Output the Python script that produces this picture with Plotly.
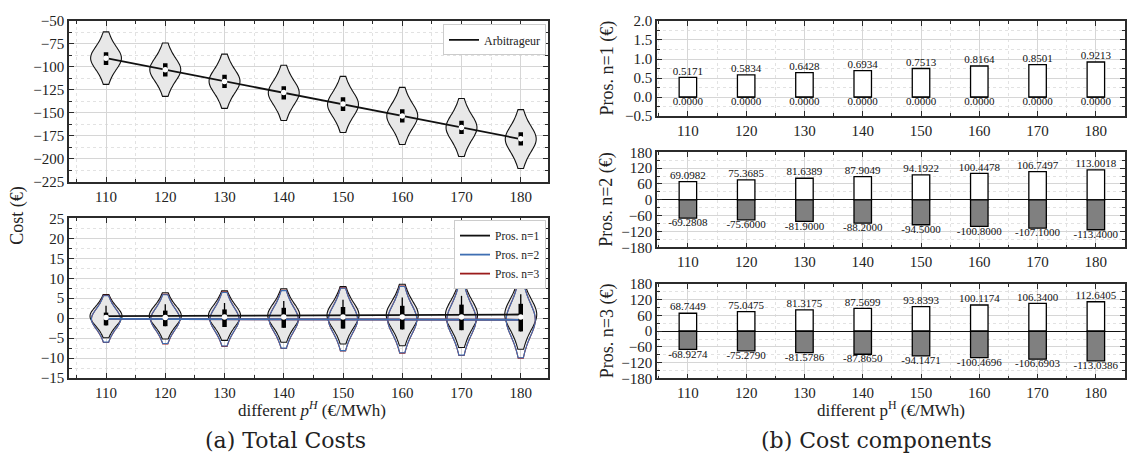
import plotly.graph_objects as go

# ---------------- data ----------------
prices = [110, 120, 130, 140, 150, 160, 170, 180]

# total cost of the arbitrageur (EUR), mean per hydrogen price
arbitrageur_cost = [-90.5, -103.0, -115.6, -128.2, -140.8, -153.3, -165.9, -178.4]
# half-range of the arbitrageur cost distribution per price
arbitrageur_spread = [28.5, 29.0, 29.5, 30.0, 30.5, 31.0, 31.5, 32.0]
# quartiles / medians of the arbitrageur cost distribution
arbitrageur_q1 = [-98.0, -110.5, -123.0, -135.5, -148.0, -160.5, -173.0, -185.5]
arbitrageur_q3 = [-84.0, -96.0, -108.5, -121.0, -133.0, -146.0, -158.5, -171.0]
arbitrageur_median = [-90.5, -103.0, -115.8, -127.8, -140.3, -153.5, -165.9, -178.2]

# prosumer cost components (EUR): income side (+) and expense side (-)
pros1_pos = [0.5171, 0.5834, 0.6428, 0.6934, 0.7513, 0.8164, 0.8501, 0.9213]
pros1_neg = [0.0, 0.0, 0.0, 0.0, 0.0, 0.0, 0.0, 0.0]
pros2_pos = [69.0982, 75.3685, 81.6389, 87.9049, 94.1922, 100.4478, 106.7497, 113.0018]
pros2_neg = [-69.2808, -75.6000, -81.9000, -88.2000, -94.5000, -100.8000, -107.1000, -113.4000]
pros3_pos = [68.7449, 75.0475, 81.3175, 87.5699, 93.8393, 100.1174, 106.3400, 112.6405]
pros3_neg = [-68.9274, -75.2790, -81.5786, -87.8650, -94.1471, -100.4696, -106.6903, -113.0386]

# half-range of each prosumer's total cost distribution per price
pros1_spread = [5.4, 5.8, 6.2, 6.7, 7.2, 7.7, 8.2, 8.7]
pros2_spread = [5.8, 6.1, 6.7, 7.2, 7.8, 8.3, 8.9, 9.5]
pros3_spread = [5.9, 6.2, 6.8, 7.3, 7.9, 8.4, 9.0, 9.6]
# box statistics of the prosumer cost distributions
pros_median = [0.2, 0.2, 0.3, 0.3, 0.3, 0.3, 0.3, 0.3]
pros_q1 = [-1.8, -2.0, -2.2, -2.4, -2.6, -2.8, -3.0, -3.3]
pros_q3 = [1.4, 1.9, 2.2, 2.6, 2.8, 3.1, 3.4, 3.6]
pros_whisker_hi = [3.1, 3.5, 3.8, 4.3, 4.6, 5.2, 5.6, 6.0]

# normalised scenario deviations (shape of every cost distribution)
unit_offsets = [-1.00, -0.78, -0.64, -0.53, -0.45, -0.38, -0.32, -0.26, -0.21,
                -0.16, -0.12, -0.08, -0.04, 0.00, 0.04, 0.08, 0.12, 0.16, 0.21,
                0.26, 0.32, 0.38, 0.45, 0.53, 0.64, 0.78, 1.00]

# net prosumer cost = income + expense
pros1_cost = [a + b for a, b in zip(pros1_pos, pros1_neg)]
pros2_cost = [a + b for a, b in zip(pros2_pos, pros2_neg)]
pros3_cost = [a + b for a, b in zip(pros3_pos, pros3_neg)]

# ---------------- layout helpers ----------------
W, H = 1127, 475
FONT = "Liberation Serif"
CAPTION_FONT = "DejaVu Serif"
BLUE = "#3f6fb3"
RED = "#9b1c1c"
GRID = "#d6d6d6"
MINOR_GRID = "#e2e2e2"
FRAME = "#2b2b2b"
BW = 0.24  # kernel bandwidth relative to the distribution half-range


def fx(px):
    return px / W


def fy(py):
    return 1 - py / H


fig = go.Figure()


def add_violins(centers, spreads, xa, ya, edge, fill, width):
    for p, c, s in zip(prices, centers, spreads):
        ys = [c + s * u for u in unit_offsets]
        fig.add_trace(go.Violin(
            x=[p] * len(ys), y=ys, xaxis=xa, yaxis=ya,
            width=width, spanmode="hard", bandwidth=BW * s,
            points=False, box_visible=False, meanline_visible=False,
            fillcolor=fill, line=dict(color=edge, width=1.1),
            showlegend=False, hoverinfo="skip"))


def segments(lo, hi):
    xs, ys = [], []
    for p, a, b in zip(prices, lo, hi):
        xs += [p, p, None]
        ys += [a, b, None]
    return xs, ys


# ---- panel (a) top: arbitrageur ----
add_violins(arbitrageur_cost, arbitrageur_spread, "x", "y", "#111111", "#e8e8e8", 5.2)
fig.add_trace(go.Scatter(x=prices, y=arbitrageur_cost, xaxis="x", yaxis="y", mode="lines",
                         line=dict(color="#111111", width=1.8), name="Arbitrageur",
                         legend="legend"))
bx, by = segments(arbitrageur_q1, arbitrageur_q3)
fig.add_trace(go.Scatter(x=bx, y=by, xaxis="x", yaxis="y", mode="lines",
                         line=dict(color="black", width=4.5), showlegend=False, hoverinfo="skip"))
fig.add_trace(go.Scatter(x=prices, y=arbitrageur_median, xaxis="x", yaxis="y", mode="markers",
                         marker=dict(color="white", size=5.5), showlegend=False, hoverinfo="skip"))

# ---- panel (a) bottom: prosumers ----
add_violins(pros1_cost, pros1_spread, "x2", "y2", "#111111", "#e8e8e8", 5.4)
add_violins(pros3_cost, pros3_spread, "x2", "y2", RED, "rgba(0,0,0,0)", 4.9)
add_violins(pros2_cost, pros2_spread, "x2", "y2", BLUE, "rgba(0,0,0,0)", 4.9)
fig.add_trace(go.Scatter(x=prices, y=pros1_cost, xaxis="x2", yaxis="y2", mode="lines",
                         line=dict(color="#111111", width=1.8), name="Pros. n=1",
                         legend="legend2", legendrank=1))
fig.add_trace(go.Scatter(x=prices, y=pros3_cost, xaxis="x2", yaxis="y2", mode="lines",
                         line=dict(color=RED, width=1.8), name="Pros. n=3",
                         legend="legend2", legendrank=3))
fig.add_trace(go.Scatter(x=prices, y=pros2_cost, xaxis="x2", yaxis="y2", mode="lines",
                         line=dict(color=BLUE, width=1.8), name="Pros. n=2",
                         legend="legend2", legendrank=2))
wx, wy = segments(pros_q1, pros_whisker_hi)
fig.add_trace(go.Scatter(x=wx, y=wy, xaxis="x2", yaxis="y2", mode="lines",
                         line=dict(color="black", width=1.3), showlegend=False, hoverinfo="skip"))
bx, by = segments(pros_q1, pros_q3)
fig.add_trace(go.Scatter(x=bx, y=by, xaxis="x2", yaxis="y2", mode="lines",
                         line=dict(color="black", width=4.5), showlegend=False, hoverinfo="skip"))
fig.add_trace(go.Scatter(x=prices, y=pros_median, xaxis="x2", yaxis="y2", mode="markers",
                         marker=dict(color="white", size=5.5), showlegend=False, hoverinfo="skip"))


# ---- panel (b): cost components ----
def add_components(pos, neg, xa, ya):
    fig.add_trace(go.Bar(x=prices, y=pos, xaxis=xa, yaxis=ya, width=3,
                         marker=dict(color="white", line=dict(color="black", width=1.3)),
                         showlegend=False, hoverinfo="skip"))
    fig.add_trace(go.Bar(x=prices, y=neg, xaxis=xa, yaxis=ya, width=3,
                         marker=dict(color="#808080", line=dict(color="black", width=1.3)),
                         showlegend=False, hoverinfo="skip"))
    fig.add_trace(go.Scatter(x=prices, y=pos, xaxis=xa, yaxis=ya, mode="text",
                             text=[f"{v:.4f}" for v in pos], textposition="top center",
                             textfont=dict(family=FONT, size=11, color="#111"),
                             showlegend=False, hoverinfo="skip"))
    fig.add_trace(go.Scatter(x=prices, y=neg, xaxis=xa, yaxis=ya, mode="text",
                             text=[f"{v:.4f}" for v in neg], textposition="bottom center",
                             textfont=dict(family=FONT, size=11, color="#111"),
                             showlegend=False, hoverinfo="skip"))


add_components(pros1_pos, pros1_neg, "x3", "y3")
add_components(pros2_pos, pros2_neg, "x4", "y4")
add_components(pros3_pos, pros3_neg, "x5", "y5")

# ---------------- axes ----------------
tickfont = dict(family=FONT, size=15, color="#222")


def xaxis(domain, anchor, rng):
    return dict(domain=domain, anchor=anchor, range=rng, tickmode="array",
                tickvals=prices, ticktext=[str(p) for p in prices], ticks="inside",
                ticklen=5, tickcolor=FRAME, showline=True, linecolor=FRAME, linewidth=1.5,
                mirror="allticks", showgrid=True, gridcolor=GRID, gridwidth=1.3,
                zeroline=False, tickfont=tickfont,
                minor=dict(dtick=5, tick0=105, ticks="inside", ticklen=3, tickcolor=FRAME,
                           showgrid=True, gridcolor=MINOR_GRID, griddash="dot", gridwidth=1))


def yaxis(domain, anchor, rng, dtick, minor, fmt=None, zero=False):
    d = dict(domain=domain, anchor=anchor, range=rng, dtick=dtick, tick0=rng[0],
             ticks="inside", ticklen=5, tickcolor=FRAME, showline=True, linecolor=FRAME,
             linewidth=1.5, mirror="allticks", showgrid=True, gridcolor=GRID, gridwidth=1.3,
             zeroline=zero, zerolinecolor="#111", zerolinewidth=1.3, tickfont=tickfont,
             minor=dict(dtick=minor, ticks="inside", ticklen=3, tickcolor=FRAME,
                        showgrid=True, gridcolor=MINOR_GRID, griddash="dot", gridwidth=1))
    if fmt:
        d["tickformat"] = fmt
    return d


left_x = [fx(69), fx(548)]
right_x = [fx(657), fx(1125)]

fig.update_layout(
    width=W, height=H, margin=dict(l=0, r=0, t=0, b=0),
    paper_bgcolor="white", plot_bgcolor="white",
    font=dict(family=FONT, color="#222"),
    violinmode="overlay", barmode="overlay",
    xaxis=xaxis(left_x, "y", [103.75, 184.6]),
    yaxis=yaxis([fy(180), fy(13.3)], "x", [-225, -50], 25, 12.5),
    xaxis2=xaxis(left_x, "y2", [103.75, 184.6]),
    yaxis2=yaxis([fy(383), fy(217.7)], "x2", [-15, 25], 5, 2.5),
    xaxis3=xaxis(right_x, "y3", [104.7, 185.0]),
    yaxis3=yaxis([fy(112), fy(13.3)], "x3", [-0.5, 2.0], 0.5, 0.25, fmt=".1f"),
    xaxis4=xaxis(right_x, "y4", [104.7, 185.0]),
    yaxis4=yaxis([fy(247.7), fy(149.3)], "x4", [-180, 180], 60, 30, zero=True),
    xaxis5=xaxis(right_x, "y5", [104.7, 185.0]),
    yaxis5=yaxis([fy(383.3), fy(285.7)], "x5", [-180, 180], 60, 30, zero=True),
    legend=dict(x=fx(546), xanchor="right", y=fy(17), yanchor="top", bgcolor="white",
                bordercolor="#cccccc", borderwidth=1, itemwidth=30,
                font=dict(family=FONT, size=12, color="#222")),
    legend2=dict(x=fx(546), xanchor="right", y=fy(219.5), yanchor="top", bgcolor="white",
                 bordercolor="#cccccc", borderwidth=1, itemwidth=30, tracegroupgap=0,
                 font=dict(family=FONT, size=11.5, color="#222")),
)


# ---------------- titles and captions ----------------
def note(text, x, y, size, angle=0, family=FONT):
    fig.add_annotation(text=text, x=fx(x), y=fy(y), xref="paper", yref="paper",
                       showarrow=False, textangle=angle, xanchor="center", yanchor="middle",
                       font=dict(family=family, size=size, color="#222"))


note("Cost (€)", 18, 215, 18, -90)
note("different <i>p</i><sup><i>H</i></sup> (€/MWh)", 312, 415, 17)
note("different p<sup>H</sup> (€/MWh)", 891, 415, 17)
note("Pros. n=1 (€)", 607, 62.6, 18, -90)
note("Pros. n=2 (€)", 607, 198.5, 18, -90)
note("Pros. n=3 (€)", 607, 334.5, 18, -90)
note("(a) Total Costs", 285, 448, 22, family=CAPTION_FONT)
note("(b) Cost components", 876, 448, 22, family=CAPTION_FONT)

fig.write_html("out.html")
